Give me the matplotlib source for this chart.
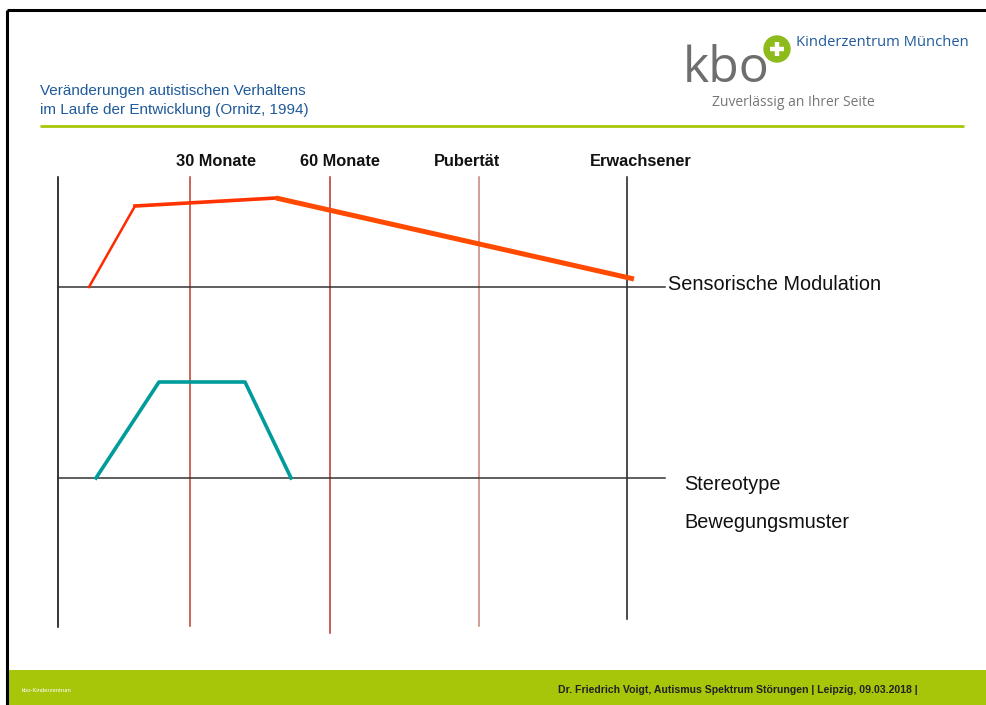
import matplotlib
matplotlib.use("Agg")
import matplotlib.pyplot as plt
from matplotlib.patches import Rectangle, Circle
from matplotlib import font_manager

# ---------------- data (positions in slide pixel units) ----------------
milestone_labels = ["30 Monate", "60 Monate", "Pubertät", "Erwachsener"]
milestone_x = [190, 330, 479, 627]
milestone_bottom = [626, 633, 626, 619]
milestone_colors = ["#c0392b", "#b5302a", "#c98076", "#1a1a1a"]
milestone_label_x = [216, 340, 467, 641]

baseline_y = [287, 478]
series_labels = ["Sensorische Modulation", "Stereotype", "Bewegungsmuster"]

sensor_x = [89, 135, 276, 634]
sensor_y = [287, 206, 198, 279]

stereo_x = [96, 159, 245, 291]
stereo_y = [478, 382, 382, 478]

axis_left_x = 58
axis_top = 177
axis_bottom = 627
baseline_right = 665

title_lines = ["Veränderungen autistischen Verhaltens",
               "im Laufe der Entwicklung (Ornitz, 1994)"]
footer_left = "kbo-Kinderzentrum"
footer_right = "Dr. Friedrich Voigt, Autismus Spektrum Störungen | Leipzig, 09.03.2018 |"

# ---------------- figure ----------------
W, H = 986, 705
fig = plt.figure(figsize=(W / 100, H / 100), dpi=100)
ax = fig.add_axes([0, 0, 1, 1])
ax.set_xlim(0, W)
ax.set_ylim(H, 0)
ax.axis("off")

FONT = "Liberation Sans"
names = {f.name for f in font_manager.fontManager.ttflist}
NARROW = "Liberation Sans Narrow" if "Liberation Sans Narrow" in names else FONT
narrow_size = 5.0 if NARROW != FONT else 4.2
green = "#a8c609"
blue = "#1f5a9a"

# slide frame
ax.plot([7, 7], [10, H], color="black", lw=2.2, solid_capstyle="butt")
ax.plot([7, W], [10, 10], color="black", lw=2.2, solid_capstyle="butt")

# header
ax.text(40, 91, title_lines[0], color=blue, fontsize=11.0, family=FONT, va="center", ha="left")
ax.text(40, 110, title_lines[1], color=blue, fontsize=11.0, family=FONT, va="center", ha="left")
ax.plot([40, 964], [126, 126], color=green, lw=2, solid_capstyle="butt")

# logo
ax.text(683, 82, "kbo", color="#6e6e6e", fontsize=36, family="Open Sans", va="baseline", ha="left")
ax.add_patch(Circle((777, 49), 15.5, color="white", zorder=4))
ax.add_patch(Circle((777, 49), 13, color="#8dbb1c", zorder=5))
ax.plot([777, 777], [42, 56], color="white", lw=3.2, zorder=6, solid_capstyle="butt")
ax.plot([770, 784], [49, 49], color="white", lw=3.2, zorder=6, solid_capstyle="butt")
ax.text(796, 43, "Kinderzentrum München", color=blue, fontsize=10.6, family="Open Sans",
        va="center", ha="left")
ax.text(712, 103, "Zuverlässig an Ihrer Seite", color="#777777", fontsize=10.0, family="Open Sans",
        va="center", ha="left")

# footer
ax.add_patch(Rectangle((8, 670), W - 8, H - 670, color=green, lw=0))
ax.text(22, 690, footer_left, color="white", fontsize=narrow_size, family=NARROW, va="center", ha="left")
ax.text(918, 690, footer_right, color="#222222", fontsize=7.6, family=FONT, weight="bold",
        va="center", ha="right")

# ---------------- chart ----------------
ax.plot([axis_left_x, axis_left_x], [axis_top, axis_bottom], color="black", lw=1.1)
for x, b, c in zip(milestone_x, milestone_bottom, milestone_colors):
    ax.plot([x, x], [axis_top, b], color=c, lw=1.1)
for lab, lx in zip(milestone_labels, milestone_label_x):
    ax.text(lx, 161, lab, fontsize=11.8, weight="bold", family=FONT, ha="center", va="center",
            color="#111111")
for y in baseline_y:
    ax.plot([axis_left_x, baseline_right], [y, y], color="#333333", lw=1.1)

# sensory modulation: thinner rise, thicker decline
ax.plot(sensor_x[:2], sensor_y[:2], color="#ff2a00", lw=1.8, zorder=3)
ax.plot(sensor_x[1:3], sensor_y[1:3], color="#ff3300", lw=2.6, zorder=3)
ax.plot(sensor_x[2:], sensor_y[2:], color="#ff4a00", lw=3.6, solid_capstyle="butt", zorder=3)

# stereotyped movements
ax.plot(stereo_x, stereo_y, color="#009b9b", lw=2.6, zorder=3)

ax.text(668, 285, series_labels[0], fontsize=14.3, family=FONT, va="center", ha="left", color="#111111")
ax.text(684, 485, series_labels[1], fontsize=14.3, family=FONT, va="center", ha="left", color="#111111")
ax.text(684, 522, series_labels[2], fontsize=14.3, family=FONT, va="center", ha="left", color="#111111")

fig.savefig("out.png", dpi=100)
